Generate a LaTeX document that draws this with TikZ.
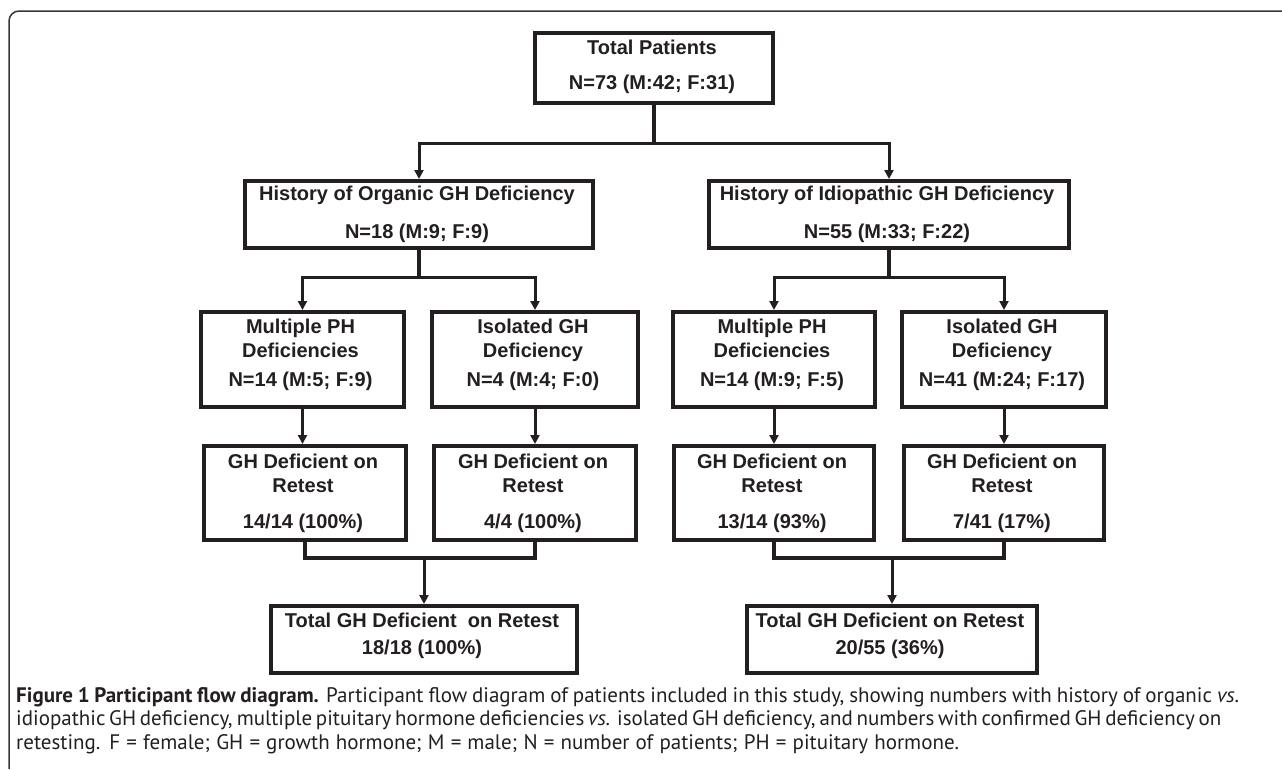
\documentclass[tikz,border=0pt]{standalone}
\usepackage{fontspec}
\setmainfont{Liberation Sans}
\newfontfamily\capfont{PT Sans}
\usetikzlibrary{arrows.meta}
\definecolor{ink}{HTML}{231F20}
\begin{document}
\begin{tikzpicture}[x=1pt,y=-1pt,
  box/.style={draw=ink, line width=4pt, inner sep=0pt, anchor=north west, fill=white},
  conn/.style={draw=ink, line width=3.5pt},
  arr/.style={draw=ink, line width=3pt, -{Triangle[width=9pt,length=9pt]}},
  txt/.style={anchor=base, inner sep=0pt, text=ink, font=\fontsize{20}{24}\selectfont\bfseries},
  captxt/.style={anchor=base west, inner sep=0pt, text=ink, font=\capfont\fontsize{21}{23}\selectfont}]
\useasboundingbox (0,0) rectangle (1282,769);
% outer frame
\draw[ink!90, line width=1.5pt, rounded corners=10pt] (9,769) -- (9,11) -- (1282,11);
% boxes
\node[box, minimum width=238pt, minimum height=70pt] (tot) at (533,31) {};
\node[box, minimum width=348pt, minimum height=67pt] (org) at (243,179) {};
\node[box, minimum width=360pt, minimum height=67pt] (idi) at (707,179) {};
\node[box, minimum width=203pt, minimum height=95pt] (mpl) at (199,310) {};
\node[box, minimum width=206pt, minimum height=95pt] (igl) at (430,310) {};
\node[box, minimum width=202pt, minimum height=95pt] (mpr) at (671,310) {};
\node[box, minimum width=204pt, minimum height=95pt] (igr) at (900,310) {};
\node[box, minimum width=202pt, minimum height=94pt] (gdla) at (202,444) {};
\node[box, minimum width=202pt, minimum height=94pt] (gdlb) at (432,444) {};
\node[box, minimum width=200pt, minimum height=94pt] (gdra) at (672,444) {};
\node[box, minimum width=200pt, minimum height=94pt] (gdrb) at (902,444) {};
\node[box, minimum width=306pt, minimum height=67pt] (totl) at (269,604) {};
\node[box, minimum width=290pt, minimum height=67pt] (totr) at (745,604) {};
% texts
\node[txt] (totA) at (652,54) {Total Patients};
\node[txt] (totB) at (652,89) {N=73 (M:42; F:31)};
\node[txt] (orgA) at (417,200) {History of Organic GH Deficiency};
\node[txt] (orgB) at (417,238) {N=18 (M:9; F:9)};
\node[txt] (idiA) at (887,200) {History of Idiopathic GH Deficiency};
\node[txt] (idiB) at (887,238) {N=55 (M:33; F:22)};
\node[txt] (mplA) at (300.5,333) {Multiple PH};
\node[txt] (mplB) at (300.5,357) {Deficiencies};
\node[txt] (mplC) at (300.5,386) {N=14 (M:5; F:9)};
\node[txt] (iglA) at (533,333) {Isolated GH};
\node[txt] (iglB) at (533,357) {Deficiency};
\node[txt] (iglC) at (533,386) {N=4 (M:4; F:0)};
\node[txt] (mprA) at (772,333) {Multiple PH};
\node[txt] (mprB) at (772,357) {Deficiencies};
\node[txt] (mprC) at (772,386) {N=14 (M:9; F:5)};
\node[txt] (igrA) at (1002,333) {Isolated GH};
\node[txt] (igrB) at (1002,357) {Deficiency};
\node[txt] (igrC) at (1002,386) {N=41 (M:24; F:17)};
\node[txt] (gdlaA) at (303,468) {GH Deficient on};
\node[txt] (gdlaB) at (303,492) {Retest};
\node[txt] (gdlaC) at (303,528) {14/14 (100\%)};
\node[txt] (gdlbA) at (533,468) {GH Deficient on};
\node[txt] (gdlbB) at (533,492) {Retest};
\node[txt] (gdlbC) at (533,528) {4/4 (100\%)};
\node[txt] (gdraA) at (772,468) {GH Deficient on};
\node[txt] (gdraB) at (772,492) {Retest};
\node[txt] (gdraC) at (772,528) {13/14 (93\%)};
\node[txt] (gdrbA) at (1002,468) {GH Deficient on};
\node[txt] (gdrbB) at (1002,492) {Retest};
\node[txt] (gdrbC) at (1002,528) {7/41 (17\%)};
\node[txt] (totlA) at (422,627) {Total GH Deficient\ \ on Retest};
\node[txt] (totlB) at (422,654) {18/18 (100\%)};
\node[txt] (totrA) at (890,627) {Total GH Deficient on Retest};
\node[txt] (totrB) at (890,654) {20/55 (36\%)};
% connectors
\draw[conn] (tot.south) -- ++(0,38) coordinate (bus0);
\draw[arr] (bus0) -| (org.north);
\draw[arr] (bus0) -| (idi.north);
\draw[conn] (org.south) -- ++(0,27) coordinate (bus1);
\draw[arr] (bus1) -| (mpl.north);
\draw[arr] (bus1) -| (igl.north);
\draw[conn] (idi.south) -- ++(0,27) coordinate (bus2);
\draw[arr] (bus2) -| (mpr.north);
\draw[arr] (bus2) -| (igr.north);
\draw[arr] (mpl.south) -- (mpl.south |- gdla.north);
\draw[arr] (igl.south) -- (igl.south |- gdlb.north);
\draw[arr] (mpr.south) -- (mpr.south |- gdra.north);
\draw[arr] (igr.south) -- (igr.south |- gdrb.north);
\path (gdla.south) ++(0,16) coordinate (m1);
\path (gdra.south) ++(0,16) coordinate (m2);
\draw[conn] (gdla.south) -- (m1) -| (gdlb.south);
\draw[conn] (gdra.south) -- (m2) -| (gdrb.south);
\draw[arr] (m1 -| totl.north) -- (totl.north);
\draw[arr] (m2 -| totr.north) -- (totr.north);
% caption
\node[captxt] (capA) at (16,702) {\hbox to 1223pt{\textbf{Figure 1 Participant flow diagram.} Participant flow diagram of patients included in this study, showing numbers with history of organic \textit{vs.}}};
\node[captxt] (capB) at (16,725) {\hbox to 1173pt{idiopathic GH deficiency, multiple pituitary hormone deficiencies \textit{vs.} isolated GH deficiency, and numbers with confirmed GH deficiency on}};
\node[captxt] (capC) at (16,749) {\hbox to 943pt{retesting. F = female; GH = growth hormone; M = male; N = number of patients; PH = pituitary hormone.}};
\end{tikzpicture}
\end{document}
